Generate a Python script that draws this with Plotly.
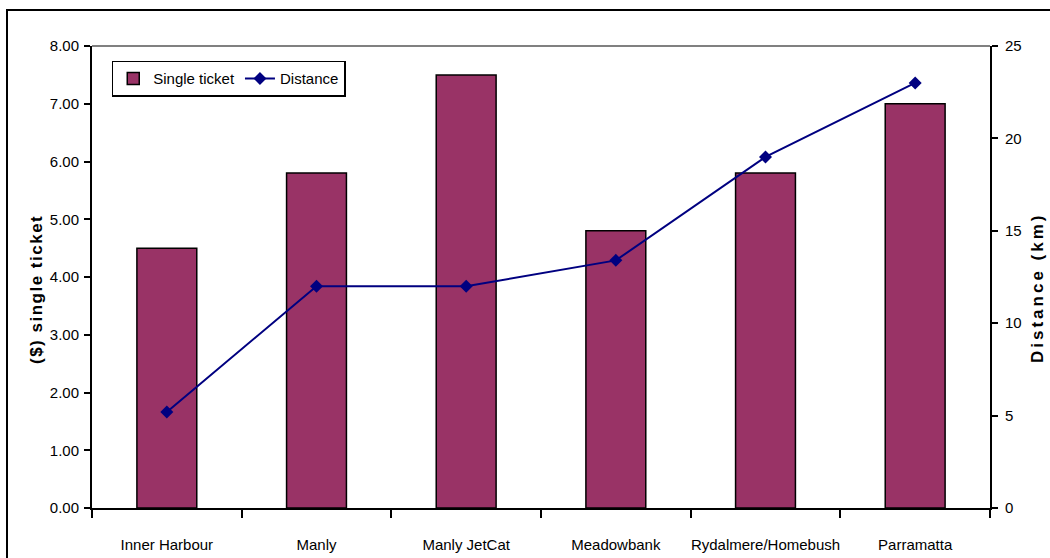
import plotly.graph_objects as go

# Ferry routes: single-ticket fare and route distance
routes = ["Inner Harbour", "Manly", "Manly JetCat", "Meadowbank",
          "Rydalmere/Homebush", "Parramatta"]
single_ticket = [4.50, 5.80, 7.50, 4.80, 5.80, 7.00]
distance_km = [5.2, 12.0, 12.0, 13.4, 19.0, 23.0]

fare_ticks = [0, 1, 2, 3, 4, 5, 6, 7, 8]
fare_tick_text = [f"{v:.2f}" for v in fare_ticks]
dist_ticks = [0, 5, 10, 15, 20, 25]

FONT = "Liberation Sans, Arial, sans-serif"

fig = go.Figure()
fig.add_trace(go.Bar(
    x=routes, y=single_ticket, name="Single ticket",
    marker=dict(color="#993366", line=dict(color="#000000", width=1.5)),
    width=0.4,
))
fig.add_trace(go.Scatter(
    x=routes, y=distance_km, name="Distance", yaxis="y2",
    mode="lines+markers",
    line=dict(color="#000080", width=2),
    marker=dict(symbol="diamond", size=10, color="#000080"),
))

fig.update_layout(
    width=1050, height=558,
    margin=dict(l=92, r=60, t=46, b=50, autoexpand=False),
    paper_bgcolor="white", plot_bgcolor="white",
    font=dict(family=FONT, size=15, color="#000000"),
    showlegend=True,
    legend=dict(
        orientation="h", x=0.022, y=0.968, xanchor="left", yanchor="top",
        bgcolor="white", bordercolor="#000000", borderwidth=1.5,
        font=dict(family=FONT, size=15),
        itemwidth=30, tracegroupgap=0,
    ),
    xaxis=dict(
        type="category", showline=True, linecolor="#000000", linewidth=2,
        ticks="outside", ticklen=8, tickwidth=2, tickcolor="#000000",
        tickson="boundaries", showgrid=False, zeroline=False,
        tickangle=0, automargin=False, ticklabelstandoff=22,
    ),
    yaxis=dict(
        range=[0, 8], tickvals=fare_ticks, ticktext=fare_tick_text,
        showline=True, linecolor="#000000", linewidth=2,
        ticks="outside", ticklen=6, tickwidth=2, tickcolor="#000000",
        showgrid=False, zeroline=False, ticklabelstandoff=2,
        automargin=False,
    ),
    yaxis2=dict(
        range=[0, 25], tickvals=dist_ticks, overlaying="y", side="right",
        showline=True, linecolor="#000000", linewidth=2,
        ticks="outside", ticklen=6, tickwidth=2, tickcolor="#000000",
        showgrid=False, zeroline=False, ticklabelstandoff=4,
        automargin=False,
    ),
    bargap=0.6,
)

# Axis titles
fig.add_annotation(
    xref="paper", yref="paper", x=(36 - 92) / 898, y=(508 - 290) / 462,
    text='<b><span style="letter-spacing:1.5px">($) single ticket</span></b>',
    textangle=-90, showarrow=False, xanchor="center", yanchor="middle",
    font=dict(family=FONT, size=17),
)
fig.add_annotation(
    xref="paper", yref="paper", x=(1037 - 92) / 898, y=(508 - 288) / 462,
    text='<b><span style="letter-spacing:3px">Distance (km)</span></b>',
    textangle=-90, showarrow=False, xanchor="center", yanchor="middle",
    font=dict(family=FONT, size=17),
)

# Grey top edge of the plot area
fig.add_shape(type="line", xref="paper", yref="paper", x0=0, x1=1, y0=1, y1=1,
              line=dict(color="#808080", width=2))
# Outer chart border
fig.add_shape(type="rect", xref="paper", yref="paper",
              x0=(7 - 92) / 898, x1=(1053 - 92) / 898,
              y0=(508 - 562) / 462, y1=(508 - 10) / 462,
              line=dict(color="#000000", width=2), layer="below")

fig.write_html("out.html")
